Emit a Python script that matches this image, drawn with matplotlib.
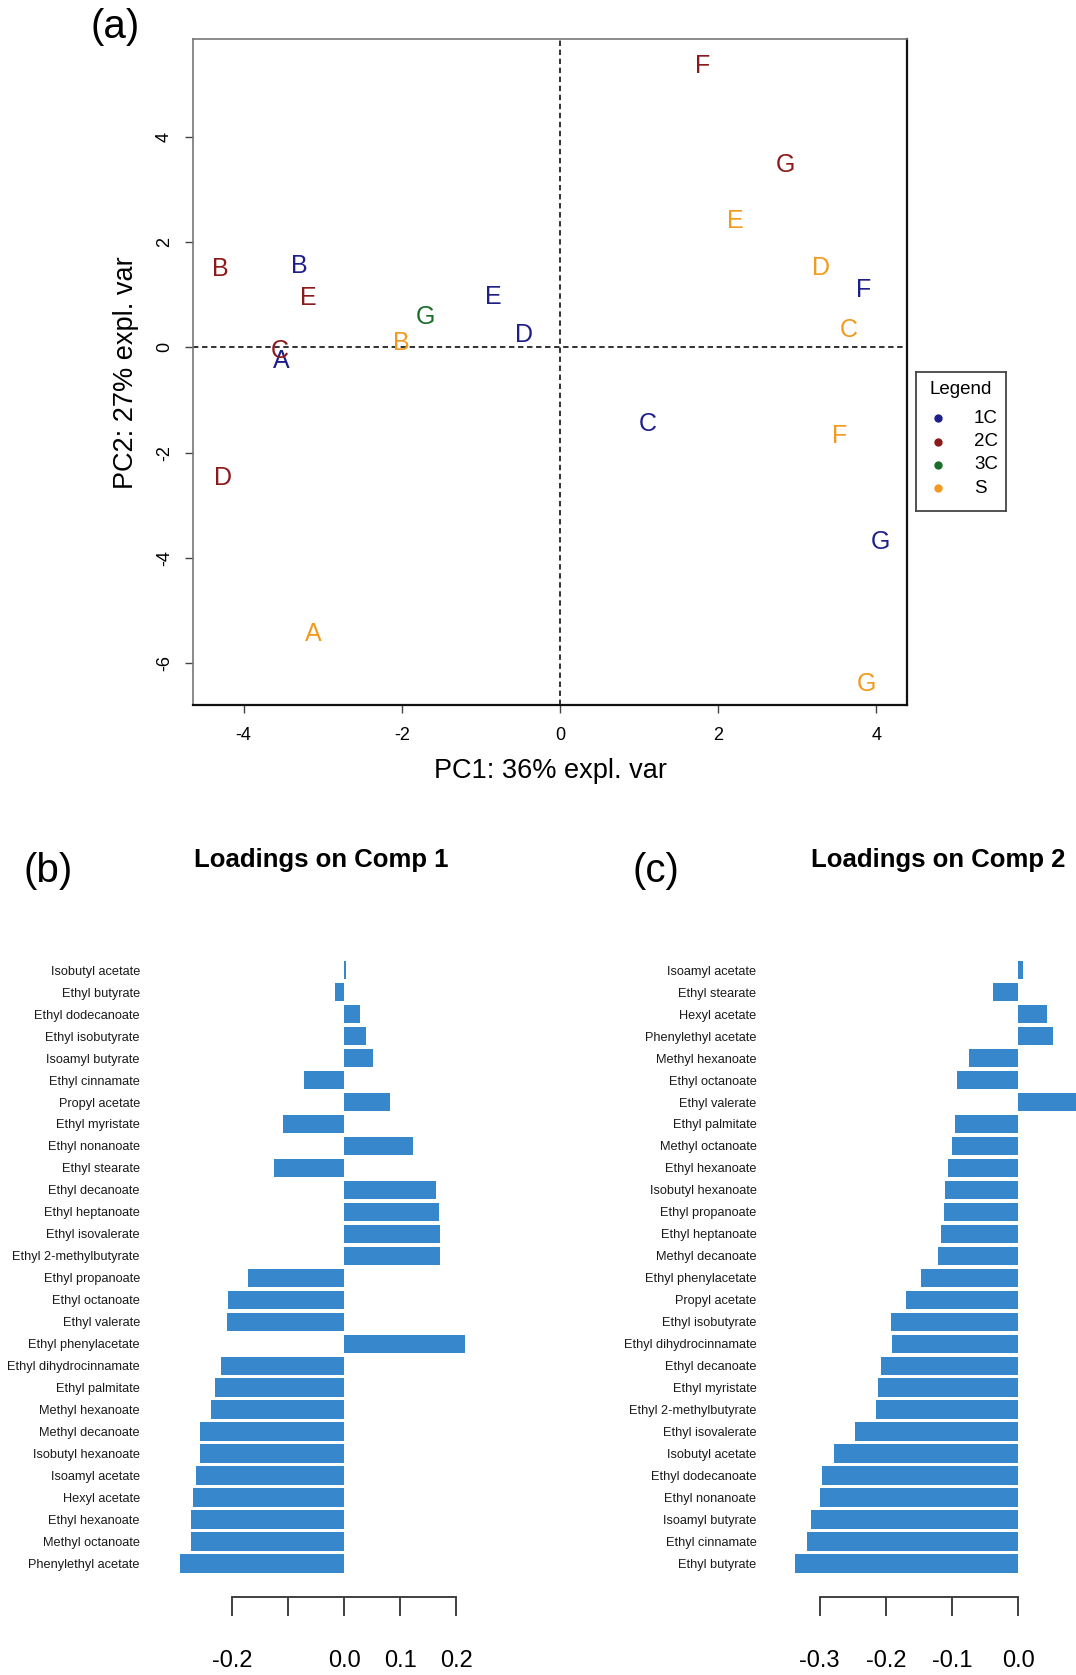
import numpy as np
import matplotlib.pyplot as plt
from matplotlib.transforms import offset_copy

plt.rcParams['font.family'] = ['Liberation Sans', 'DejaVu Sans']
plt.rcParams['axes.unicode_minus'] = False

W, H = 1076, 1675

# PCA scores per group: sample letter, PC1, PC2
s1c_lab = ['A', 'B', 'C', 'D', 'E', 'F', 'G']
s1c_pc1 = [-3.53, -3.30, 1.11, -0.45, -0.84, 3.84, 4.05]
s1c_pc2 = [-0.21, 1.59, -1.40, 0.28, 1.01, 1.14, -3.65]

s2c_lab = ['B', 'C', 'D', 'E', 'F', 'G']
s2c_pc1 = [-4.29, -3.54, -4.26, -3.18, 1.81, 2.85]
s2c_pc2 = [1.53, -0.02, -2.43, 0.98, 5.38, 3.51]

s3c_lab = ['G']
s3c_pc1 = [-1.70]
s3c_pc2 = [0.63]

ss_lab = ['A', 'B', 'C', 'D', 'E', 'F', 'G']
ss_pc1 = [-3.12, -2.00, 3.65, 3.30, 2.22, 3.54, 3.88]
ss_pc2 = [-5.40, 0.12, 0.37, 1.56, 2.45, -1.64, -6.35]

groups = ['1C', '2C', '3C', 'S']
group_colors = ['#1f1f8a', '#8b1a1a', '#1a6e2a', '#f29a1e']

# loadings, listed top to bottom
comp1_names = ['Isobutyl acetate', 'Ethyl butyrate', 'Ethyl dodecanoate', 'Ethyl isobutyrate',
               'Isoamyl butyrate', 'Ethyl cinnamate', 'Propyl acetate', 'Ethyl myristate',
               'Ethyl nonanoate', 'Ethyl stearate', 'Ethyl decanoate', 'Ethyl heptanoate',
               'Ethyl isovalerate', 'Ethyl 2-methylbutyrate', 'Ethyl propanoate', 'Ethyl octanoate',
               'Ethyl valerate', 'Ethyl phenylacetate', 'Ethyl dihydrocinnamate', 'Ethyl palmitate',
               'Methyl hexanoate', 'Methyl decanoate', 'Isobutyl hexanoate', 'Isoamyl acetate',
               'Hexyl acetate', 'Ethyl hexanoate', 'Methyl octanoate', 'Phenylethyl acetate']
comp1_vals = [0.003, -0.016, 0.028, 0.039, 0.051, -0.072, 0.081, -0.109,
              0.123, -0.124, 0.163, 0.169, 0.170, 0.170, -0.172, -0.207,
              -0.209, 0.215, -0.220, -0.230, -0.237, -0.257, -0.257, -0.263,
              -0.269, -0.272, -0.272, -0.293]

comp2_names = ['Isoamyl acetate', 'Ethyl stearate', 'Hexyl acetate', 'Phenylethyl acetate',
               'Methyl hexanoate', 'Ethyl octanoate', 'Ethyl valerate', 'Ethyl palmitate',
               'Methyl octanoate', 'Ethyl hexanoate', 'Isobutyl hexanoate', 'Ethyl propanoate',
               'Ethyl heptanoate', 'Methyl decanoate', 'Ethyl phenylacetate', 'Propyl acetate',
               'Ethyl isobutyrate', 'Ethyl dihydrocinnamate', 'Ethyl decanoate', 'Ethyl myristate',
               'Ethyl 2-methylbutyrate', 'Ethyl isovalerate', 'Isobutyl acetate', 'Ethyl dodecanoate',
               'Ethyl nonanoate', 'Isoamyl butyrate', 'Ethyl cinnamate', 'Ethyl butyrate']
comp2_vals = [0.007, -0.038, 0.044, 0.052, -0.074, -0.092, 0.094, -0.0955,
              -0.0995, -0.1065, -0.110, -0.112, -0.117, -0.121, -0.147, -0.169,
              -0.192, -0.191, -0.207, -0.2115, -0.215, -0.247, -0.278, -0.296,
              -0.299, -0.313, -0.319, -0.337]

BAR = '#3787cd'


def px_axes(fig, left, top, right, bottom):
    return fig.add_axes([left / W, 1 - bottom / H, (right - left) / W, (bottom - top) / H])


fig = plt.figure(figsize=(W / 100, H / 100), dpi=100)

# ---- (a) score plot ----
ax = px_axes(fig, 193.4, 39.5, 907.2, 705.2)
ax.set_xlim(-4.635, 4.392)
ax.set_ylim(-6.794, 5.843)
ax.axhline(0, color='#222222', lw=1.3, ls=(0, (3, 2)), zorder=1)
ax.axvline(0, color='#222222', lw=1.3, ls=(0, (3, 2)), zorder=1)

# nudge letters down a touch so the glyph (not the text box) sits on the point
letter_tr = offset_copy(ax.transData, fig=fig, x=0, y=-2.5, units='dots')
score_sets = [(s1c_lab, s1c_pc1, s1c_pc2), (s2c_lab, s2c_pc1, s2c_pc2),
              (s3c_lab, s3c_pc1, s3c_pc2), (ss_lab, ss_pc1, ss_pc2)]
for (labs, xs, ys), col in zip(score_sets, group_colors):
    for lab, x, y in zip(labs, xs, ys):
        ax.text(x, y, lab, color=col, fontsize=18, ha='center', va='center',
                transform=letter_tr, zorder=3)

ax.set_xticks([-4, -2, 0, 2, 4])
ax.set_yticks([-6, -4, -2, 0, 2, 4])
ax.tick_params(axis='both', direction='out', length=5.8, width=1.0, color='#444444', labelsize=13)
ax.tick_params(axis='x', pad=10)
ax.tick_params(axis='y', pad=9)
for t in ax.get_yticklabels():
    t.set_rotation(90)
    t.set_va('center')
for side in ['left', 'top']:
    ax.spines[side].set_color('#777777')
    ax.spines[side].set_linewidth(1.2)
for side in ['right', 'bottom']:
    ax.spines[side].set_color('#111111')
    ax.spines[side].set_linewidth(1.6)

ax.set_xlabel('PC1: 36% expl. var', fontsize=19.5, va='center')
ax.xaxis.set_label_coords(0.5, -(770.5 - 705.2) / (705.2 - 39.5))
ax.set_ylabel('PC2: 27% expl. var', fontsize=19.5, va='center', ha='center')
ax.yaxis.set_label_coords(-(193.4 - 126) / (907.2 - 193.4), 0.5)

# legend box
lg = px_axes(fig, 915.5, 371.8, 1005.5, 511.0)
lg.set_xlim(915.5, 1005.5)
lg.set_ylim(511.0, 371.8)
lg.set_xticks([])
lg.set_yticks([])
for sp in lg.spines.values():
    sp.set_color('#444444')
    sp.set_linewidth(1.3)
lg.text(961, 390, 'Legend', fontsize=13.5, ha='center', va='center')
for i, (g, col) in enumerate(zip(groups, group_colors)):
    yy = 418.3 + i * 23.3
    lg.plot([938.3], [yy], 'o', ms=5, color=col)
    lg.text(974, yy, g, fontsize=13.5, ha='left', va='center')

fig.text(115 / W, 1 - 27 / H, '(a)', fontsize=29, ha='center', va='center')


# ---- (b), (c) loadings ----
def loading_panel(names, vals, left, right, xlim, ticks, ticklabels, label_pad):
    n = len(names)
    row0, step = 970.2, 21.97
    top = row0 - 0.6 * step
    bottom = row0 + (n - 1 + 0.6) * step
    a = px_axes(fig, left, top, right, bottom)
    pos = np.arange(n)
    a.barh(pos, vals, height=1 / 1.2, color=BAR, zorder=2)
    a.set_ylim(n - 1 + 0.6, -0.6)
    a.set_xlim(*xlim)
    a.set_yticks(pos, names)
    a.tick_params(axis='y', length=0, pad=label_pad, labelsize=9.2, labelcolor='#1a1a1a')
    for side in ['left', 'top', 'right']:
        a.spines[side].set_visible(False)
    a.spines['bottom'].set_position(('outward', (1597.4 - bottom) * 0.72))
    a.spines['bottom'].set_bounds(ticks[0], ticks[-1])
    a.spines['bottom'].set_color('#333333')
    a.spines['bottom'].set_linewidth(1.3)
    a.set_xticks(ticks, ticklabels)
    a.tick_params(axis='x', direction='out', length=13.7, width=1.3, color='#333333',
                  pad=24, labelsize=17)
    return a


loading_panel(comp1_names, comp1_vals, 150.4, 501.3, (-0.345, 0.28),
              [-0.2, -0.1, 0.0, 0.1, 0.2], ['-0.2', '', '0.0', '0.1', '0.2'], 7.5)
loading_panel(comp2_names, comp2_vals, 766.5, 1076, (-0.38, 0.0871),
              [-0.3, -0.2, -0.1, 0.0], ['-0.3', '-0.2', '-0.1', '0.0'], 7.2)

fig.text(321 / W, 1 - 860 / H, 'Loadings on Comp 1', fontsize=18.5, fontweight='bold',
         ha='center', va='center')
fig.text(938 / W, 1 - 860 / H, 'Loadings on Comp 2', fontsize=18.5, fontweight='bold',
         ha='center', va='center')
fig.text(48 / W, 1 - 871 / H, '(b)', fontsize=29, ha='center', va='center')
fig.text(656 / W, 1 - 871 / H, '(c)', fontsize=29, ha='center', va='center')

fig.savefig('out.png', dpi=100)
